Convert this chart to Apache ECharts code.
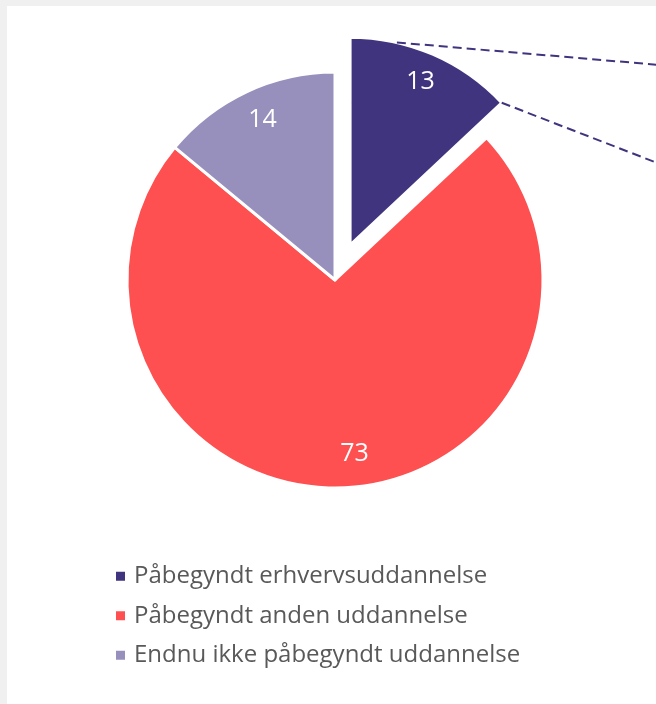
<!DOCTYPE html>
<html>
<head>
<meta charset="utf-8">
<script src="https://cdn.jsdelivr.net/npm/echarts@6/dist/echarts.min.js"></script>
<style>
    html, body { margin: 0; padding: 0; background: #f0f0f0; }
    #panel { position: absolute; left: 7px; top: 6px; right: 0; bottom: 0; background: #ffffff; }
    #chart { position: absolute; left: 0; top: 0; width: 656px; height: 704px; }
</style>
</head>
<body>
<div id="panel"></div>
<div id="chart"></div>
<script>
var categories = ['Påbegyndt erhvervsuddannelse', 'Påbegyndt anden uddannelse', 'Endnu ikke påbegyndt uddannelse'];
var values = [13, 73, 14];
var colors = ['#41347f', '#fe5050', '#978fbc'];

var cx = 335, cy = 280, r = 208;
var explode = 38;

// exploded slice geometry, used for the connector lines
var total = values.reduce(function (a, b) { return a + b; }, 0);
var sliceEnd = values[0] / total * 2 * Math.PI;
var mid = sliceEnd / 2;
var ex = cx + explode * Math.sin(mid);
var ey = cy - explode * Math.cos(mid);
function arcPoint(a) {
    return [ex + r * Math.sin(a), ey - r * Math.cos(a)];
}
var p1 = arcPoint(13 / 180 * Math.PI);
var p2 = arcPoint(sliceEnd);

var pieData = categories.map(function (name, i) {
    return {
        name: name,
        value: values[i],
        selected: i === 0,
        itemStyle: { color: colors[i] }
    };
});

// small nudges to match where the original put its labels
var labelNudge = [[-9, 3], [14, -4], [3, 0]];
var labelData = categories.map(function (name, i) {
    return {
        name: name,
        value: values[i],
        selected: i === 0,
        label: {
            offset: labelNudge[i],
            fontFamily: 'Open Sans',
            fontWeight: 'normal',
            fontSize: 25
        }
    };
});

var chart = echarts.init(document.getElementById('chart'));
chart.setOption({
    animation: false,
    legend: {
        orient: 'vertical',
        left: 114,
        top: 564,
        padding: 0,
        icon: 'rect',
        itemWidth: 11,
        itemHeight: 11,
        itemGap: 15,
        selectedMode: false,
        data: categories,
        textStyle: {
            color: '#595959',
            fontFamily: 'Open Sans',
            fontSize: 24,
            lineHeight: 24.5,
            padding: [0, 0, 0, 3]
        }
    },
    graphic: [{
        type: 'line',
        silent: true,
        shape: { x1: p1[0], y1: p1[1], x2: 660, y2: 65 },
        style: { stroke: '#41347f', lineWidth: 2, lineDash: [9, 5] },
        z: 10
    }, {
        type: 'line',
        silent: true,
        shape: { x1: p2[0], y1: p2[1], x2: 660, y2: 164 },
        style: { stroke: '#41347f', lineWidth: 2, lineDash: [9, 5] },
        z: 10
    }],
    series: [{
        type: 'pie',
        center: [cx, cy],
        radius: [0, r],
        startAngle: 90,
        clockwise: true,
        selectedMode: 'single',
        selectedOffset: explode,
        silent: true,
        itemStyle: {
            borderColor: '#ffffff',
            borderWidth: 3
        },
        label: { show: false },
        labelLine: { show: false },
        emphasis: { scale: false },
        data: pieData
    }, {
        // transparent ring that only carries the labels at ~0.84 r
        type: 'pie',
        center: [cx, cy],
        radius: [141, r],
        startAngle: 90,
        clockwise: true,
        selectedMode: 'single',
        selectedOffset: explode,
        silent: true,
        itemStyle: {
            color: 'rgba(0,0,0,0)',
            borderWidth: 0
        },
        label: {
            show: true,
            position: 'inside',
            formatter: '{c}',
            color: '#ffffff',
            fontFamily: 'Open Sans',
            fontSize: 25
        },
        labelLine: { show: false },
        emphasis: { scale: false },
        data: labelData
    }]
});
</script>
</body>
</html>
